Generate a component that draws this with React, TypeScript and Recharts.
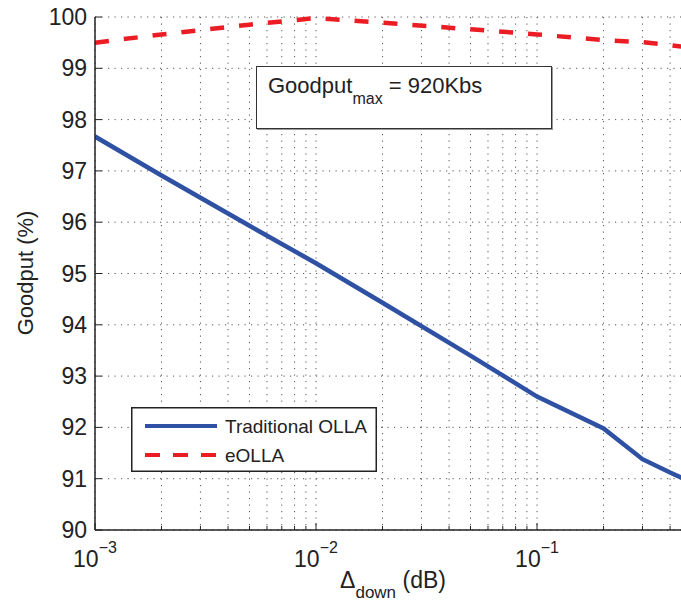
import { LineChart, Line, XAxis, YAxis, CartesianGrid, Label } from 'recharts';

// delta_down values (dB), log scale
const deltaDown = [0.001, 0.002, 0.005, 0.01, 0.02, 0.05, 0.1, 0.2, 0.3, 0.4, 0.5];
// goodput (%) for each algorithm
const traditionalOlla = [97.67, 96.91, 95.93, 95.2, 94.43, 93.4, 92.6, 91.98, 91.38, 91.12, 90.93];
const eOlla = [99.5, 99.66, 99.85, 99.98, 99.89, 99.76, 99.66, 99.55, 99.51, 99.45, 99.4];

const xTicks = [
  0.001, 0.002, 0.003, 0.004, 0.005, 0.006, 0.007, 0.008, 0.009,
  0.01, 0.02, 0.03, 0.04, 0.05, 0.06, 0.07, 0.08, 0.09,
  0.1, 0.2, 0.3, 0.4, 0.5,
];
const yTicks = [90, 91, 92, 93, 94, 95, 96, 97, 98, 99, 100];

const BLUE = '#2f51a3';
const RED = '#ec1c24';
const INK = '#222';
const FONT = '"Liberation Sans", Arial, Helvetica, sans-serif';

const data = deltaDown.map((d, i) => ({ d, trad: traditionalOlla[i], eolla: eOlla[i] }));

const isDecade = (v: number) => {
  const e = Math.round(Math.log10(v));
  return Math.abs(Math.pow(10, e) - v) < 1e-12;
};

const BottomTick = (props: any) => {
  const { x, y, payload } = props;
  const v = payload.value;
  const major = isDecade(v);
  const exp = Math.round(Math.log10(v));
  return (
    <g>
      <line x1={x} x2={x} y1={y} y2={y - (major ? 7 : 4)} stroke={INK} />
      {major && (
        <text x={x} y={y + 37} textAnchor="middle" fill={INK} fontFamily={FONT} fontSize={23}>
          <tspan>10</tspan>
          <tspan dy={-14} fontSize={16}>{'\u2212' + String(-exp)}</tspan>
        </text>
      )}
    </g>
  );
};

const TopTick = (props: any) => {
  const { x, y, payload } = props;
  const major = isDecade(payload.value);
  return <line x1={x} x2={x} y1={y} y2={y + (major ? 7 : 4)} stroke={INK} />;
};

const LeftTick = (props: any) => {
  const { x, y, payload } = props;
  return (
    <g>
      <line x1={x} x2={x + 7} y1={y} y2={y} stroke={INK} />
      <text x={x - 8} y={y + 8} textAnchor="end" fill={INK} fontFamily={FONT} fontSize={23}>
        {payload.value}
      </text>
    </g>
  );
};

const LegendBox = () => (
  <svg width={246} height={65} style={{ position: 'absolute', left: 131, top: 407 }}>
    <rect x={0.75} y={0.75} width={244.5} height={63.5} fill="#fff" stroke={INK} strokeWidth={1.5} />
    <line x1={14} x2={86} y1={19} y2={19} stroke={BLUE} strokeWidth={4} />
    <line x1={14} x2={86} y1={48} y2={48} stroke={RED} strokeWidth={4} strokeDasharray="15 13" />
    <text x={94} y={26} fill={INK} fontFamily={FONT} fontSize={19}>Traditional OLLA</text>
    <text x={94} y={55} fill={INK} fontFamily={FONT} fontSize={19}>eOLLA</text>
  </svg>
);

export default function App() {
  return (
    <div
      style={{
        position: 'fixed',
        left: 0,
        top: 0,
        width: 681,
        height: 608,
        overflow: 'hidden',
        background: '#fff',
      }}
    >
      <LineChart
        width={720}
        height={608}
        data={data}
        margin={{ top: 17, right: 28.5, left: 0, bottom: 0 }}
      >
        <CartesianGrid stroke="#555" strokeDasharray="1.2 5.3" strokeWidth={1} />
        <XAxis
          dataKey="d"
          type="number"
          scale="log"
          domain={[0.001, 0.5]}
          allowDataOverflow
          ticks={xTicks}
          interval={0}
          height={78}
          tickSize={0}
          tickMargin={0}
          tickLine={false}
          axisLine={{ stroke: INK, strokeWidth: 1.5 }}
          tick={<BottomTick />}
        >
          <Label
            content={() => (
              <text x={393} y={588} textAnchor="middle" fill={INK} fontFamily={FONT} fontSize={23}>
                <tspan>{'\u0394'}</tspan>
                <tspan dy={10} fontSize={17}>down</tspan>
                <tspan dy={-10}> (dB)</tspan>
              </text>
            )}
          />
        </XAxis>
        <XAxis
          xAxisId="top"
          orientation="top"
          dataKey="d"
          type="number"
          scale="log"
          domain={[0.001, 0.5]}
          allowDataOverflow
          ticks={xTicks}
          interval={0}
          height={0}
          tickSize={0}
          tickMargin={0}
          tickLine={false}
          axisLine={{ stroke: INK, strokeWidth: 1.5 }}
          tick={<TopTick />}
        />
        <YAxis
          type="number"
          domain={[90, 100]}
          ticks={yTicks}
          interval={0}
          width={95}
          tickSize={0}
          tickMargin={0}
          tickLine={false}
          axisLine={{ stroke: INK, strokeWidth: 1.5 }}
          tick={<LeftTick />}
        >
          <Label
            content={() => (
              <text
                x={33}
                y={273}
                transform="rotate(-90 33 273)"
                textAnchor="middle"
                fill={INK}
                fontFamily={FONT}
                fontSize={22}
              >
                Goodput (%)
              </text>
            )}
          />
        </YAxis>
        <Line
          dataKey="trad"
          name="Traditional OLLA"
          stroke={BLUE}
          strokeWidth={4.5}
          dot={false}
          type="linear"
          isAnimationActive={false}
        />
        <Line
          dataKey="eolla"
          name="eOLLA"
          stroke={RED}
          strokeWidth={4.5}
          strokeDasharray="14 15"
          dot={false}
          type="linear"
          isAnimationActive={false}
        />
      </LineChart>
      <LegendBox />
      <div
        style={{
          position: 'absolute',
          left: 256,
          top: 66,
          width: 296,
          height: 63,
          boxSizing: 'border-box',
          border: `1.5px solid #333`,
          boxShadow: '1px 1px 0 #999',
          background: '#fff',
          fontFamily: FONT,
          fontSize: 22,
          color: INK,
          paddingLeft: 11,
          paddingTop: 8,
          lineHeight: '22px',
          whiteSpace: 'nowrap',
        }}
      >
        Goodput<span style={{ fontSize: 16, position: 'relative', top: 11 }}>max</span> = 920Kbs
      </div>
    </div>
  );
}
